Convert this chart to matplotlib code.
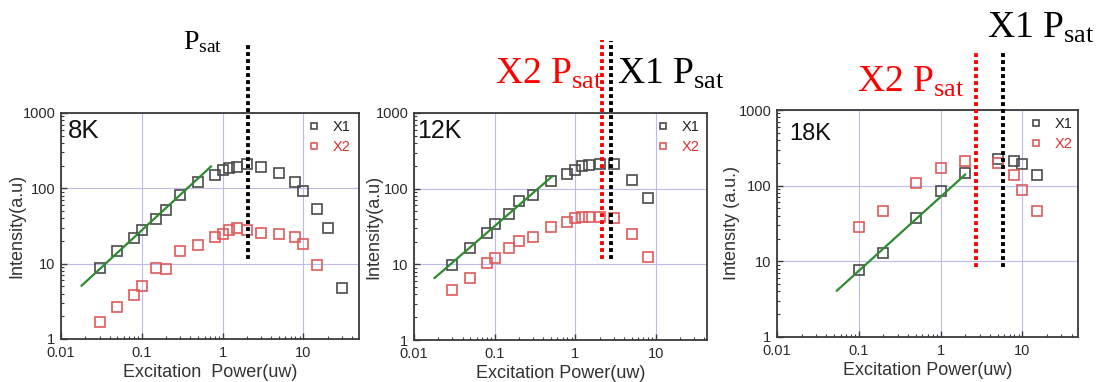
import matplotlib
matplotlib.use("Agg")
import matplotlib.pyplot as plt
from matplotlib.ticker import NullFormatter, LogLocator
from matplotlib.transforms import Bbox

plt.rcParams['font.family'] = ['Liberation Sans', 'DejaVu Sans']
plt.rcParams['mathtext.fontset'] = 'custom'
plt.rcParams['mathtext.rm'] = 'Liberation Serif'
plt.rcParams['mathtext.it'] = 'Liberation Serif:italic'

# ---------------- data ----------------
# 8K
p8_x1 = [0.03, 0.05, 0.08, 0.1, 0.15, 0.2, 0.3, 0.5, 0.8, 1.0, 1.2, 1.5, 2, 3, 5, 8, 10, 15, 20, 30]
i8_x1 = [8.8, 14.8, 22.2, 28.4, 39, 51, 81, 123, 150, 176, 189, 194, 209, 194, 158, 123, 92, 53, 30, 4.7]
p8_x2 = [0.03, 0.05, 0.08, 0.1, 0.15, 0.2, 0.3, 0.5, 0.8, 1.0, 1.2, 1.5, 2, 3, 5, 8, 10, 15]
i8_x2 = [1.67, 2.64, 3.78, 5.0, 8.8, 8.6, 14.6, 17.5, 22.7, 25, 27.8, 29.3, 28.4, 25.6, 24.6, 22.7, 18.1, 9.5]
fit8_x = [0.018, 0.72]
fit8_y = [5.1, 195]
psat8_x1 = 2.05

# 12K
p12 = [0.03, 0.05, 0.08, 0.1, 0.15, 0.2, 0.3, 0.5, 0.8, 1.0, 1.2, 1.5, 2, 3, 5, 8]
i12_x1 = [9.7, 16.5, 26.2, 33.8, 46.4, 67.8, 83, 128, 157, 176, 200, 205, 215, 215, 129, 75]
i12_x2 = [4.6, 6.6, 10.5, 12.3, 16.2, 20.5, 22.7, 30.8, 36, 41.5, 42.8, 42.8, 41.9, 41.5, 25, 12.6]
fit12_x = [0.018, 0.52]
fit12_y = [6.6, 146]
psat12_x2 = 2.17
psat12_x1 = 2.8

# 18K
p18 = [0.1, 0.2, 0.5, 1, 2, 5, 8, 10, 15]
i18_x1 = [7.6, 12.9, 37.8, 84, 147, 227, 215, 194, 137]
i18_x2 = [28.7, 46, 108, 170, 215, 200, 140, 88.5, 46]
fit18_x = [0.054, 2.0]
fit18_y = [4.1, 140]
psat18_x2 = 2.68
psat18_x1 = 5.8

x_ticks = [0.01, 0.1, 1, 10]
x_ticklabels = ['0.01', '0.1', '1', '10']
y_ticks = [1, 10, 100, 1000]
y_ticklabels = ['1', '10', '100', '1000']

# ---------------- style ----------------
W, H = 1099, 382
C_X1 = '#4a4a4a'
C_X2 = '#e05a5a'
C_FIT = '#2e8b2e'
C_GRID = '#bcbcef'
C_SPINE = '#3a3a3a'

fig = plt.figure(figsize=(W / 100, H / 100), dpi=100)


def px_axes(l, t, r, b):
    return fig.add_axes([l / W, 1 - b / H, (r - l) / W, (b - t) / H])


def style(ax, xmax, temp, tpos, tsize, ylabel, xlabel, ylx, leg_anchor):
    ax.set_xscale('log')
    ax.set_yscale('log')
    ax.set_xlim(0.01, xmax)
    ax.set_ylim(1, 1000)
    ax.set_xticks(x_ticks, x_ticklabels)
    ax.set_yticks(y_ticks, y_ticklabels)
    ax.xaxis.set_minor_locator(LogLocator(base=10, subs=range(2, 10)))
    ax.yaxis.set_minor_locator(LogLocator(base=10, subs=range(2, 10)))
    ax.xaxis.set_minor_formatter(NullFormatter())
    ax.yaxis.set_minor_formatter(NullFormatter())
    ax.tick_params(which='both', direction='in', top=False, right=False,
                   color=C_SPINE, labelsize=10.5, labelcolor='#2a2a2a')
    ax.tick_params(axis='x', pad=5)
    ax.tick_params(axis='y', pad=4)
    ax.tick_params(which='major', length=4.5, width=1.0)
    ax.tick_params(which='minor', length=2.5, width=0.8)
    ax.grid(True, which='major', color=C_GRID, lw=0.8)
    ax.set_axisbelow(True)
    for s in ax.spines.values():
        s.set_color(C_SPINE)
        s.set_linewidth(1.3)
    ax.text(tpos[0], tpos[1], temp, transform=ax.transAxes, fontsize=tsize,
            va='baseline', ha='left', color='#111111')
    ax.set_xlabel(xlabel, fontsize=13, color='#333333', labelpad=3)
    ax.set_ylabel(ylabel, fontsize=13, color='#333333')
    ax.yaxis.set_label_coords(ylx, 0.5)
    leg = ax.legend(loc='upper left', bbox_to_anchor=leg_anchor, frameon=False,
                    fontsize=10.5, markerscale=0.6, handlelength=0.8,
                    handletextpad=0.9, labelspacing=0.45, borderaxespad=0,
                    borderpad=0)
    for t, c in zip(leg.get_texts(), ['#222222', '#d83030']):
        t.set_color(c)
    return ax


def series(ax, x1, y1, x2, y2, fx, fy):
    ax.plot(x1, y1, ls='none', marker='s', ms=7.4, mfc='none', mec=C_X1,
            mew=1.2, label='X1', zorder=3)
    ax.plot(x2, y2, ls='none', marker='s', ms=7.4, mfc='none', mec=C_X2,
            mew=1.2, label='X2', zorder=3)
    ax.plot(fx, fy, color=C_FIT, lw=1.6, zorder=4)


def vline(ax, x, y0, y1, color):
    ax.plot([x, x], [y0, y1], color=color, lw=2.8, ls=(0, (1.0, 0.8)),
            clip_on=False, zorder=5)


def label(x, y, s, size, color):
    fig.text(x / W, 1 - y / H, s, fontsize=size, color=color,
             family='Liberation Serif', ha='left', va='baseline')


# Panel 1 : 8K
ax1 = px_axes(61, 113, 359, 339)
series(ax1, p8_x1, i8_x1, p8_x2, i8_x2, fit8_x, fit8_y)
style(ax1, 49, '8K', (0.023, 0.889), 18.5, 'Intensity(a.u)',
      'Excitation  Power(uw)', -0.121, (0.83, 0.97))
vline(ax1, psat8_x1, 11.4, 8850, 'black')
label(183, 49, r'P$_{\rm sat}$', 20, 'black')

# Panel 2 : 12K
ax2 = px_axes(414, 113, 707, 340)
series(ax2, p12, i12_x1, p12, i12_x2, fit12_x, fit12_y)
style(ax2, 43, '12K', (0.010, 0.889), 18, 'Intensity(a.u)',
      'Excitation Power(uw)', -0.109, (0.83, 0.97))
vline(ax2, psat12_x2, 11.7, 9200, '#ff0000')
vline(ax2, psat12_x1, 11.7, 9000, 'black')
label(495, 83.5, r'X2 P$_{\rm sat}$', 27, '#ff0000')
label(617, 83.5, r'X1 P$_{\rm sat}$', 27, 'black')

# Panel 3 : 18K
ax3 = px_axes(777, 110, 1078, 337)
series(ax3, p18, i18_x1, p18, i18_x2, fit18_x, fit18_y)
style(ax3, 48, '18K', (0.040, 0.868), 17, 'Intensity (a.u.)',
      'Excitation Power(uw)', -0.123, (0.84, 0.97))
vline(ax3, psat18_x2, 8.4, 6200, '#ff0000')
vline(ax3, psat18_x1, 8.4, 6200, 'black')
label(857, 91.5, r'X2 P$_{\rm sat}$', 27, '#ff0000')
label(987, 37.5, r'X1 P$_{\rm sat}$', 27, 'black')
ax3.yaxis.label.set_clip_box(Bbox.from_extents(723, 0, W, H))
ax3.yaxis.label.set_clip_on(True)

fig.savefig('out.png', dpi=100)
